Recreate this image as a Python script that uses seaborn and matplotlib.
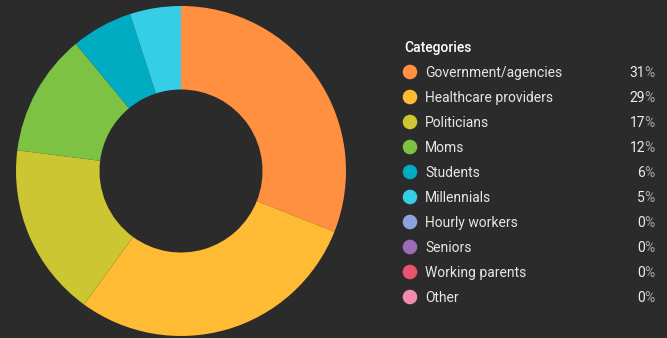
import matplotlib
matplotlib.use("Agg")
import matplotlib.pyplot as plt
import seaborn as sns

categories = ["Government/agencies", "Healthcare providers", "Politicians", "Moms",
              "Students", "Millennials", "Hourly workers", "Seniors", "Working parents", "Other"]
values = [31, 29, 17, 12, 6, 5, 0, 0, 0, 0]
colors = ["#FF9040", "#FFBB33", "#CCC633", "#7DC242", "#00ACC1", "#36CDE6",
          "#8EA2DE", "#9A6DB6", "#E8536F", "#F28BB0"]
legend_title = "Categories"

BG = "#2B2B2B"
sns.set_theme(style="dark")
plt.rcParams["font.family"] = ["Roboto", "DejaVu Sans"]
palette = sns.color_palette(colors)

W, H = 667, 338
fig = plt.figure(figsize=(W / 100, H / 100), dpi=100, facecolor=BG)

# donut
cx, cy, r = 181, 167, 165
ax = fig.add_axes([(cx - r) / W, (cy - r) / H, 2 * r / W, 2 * r / H])
ax.set_facecolor(BG)
ax.pie(values, colors=palette, startangle=90, counterclock=False, radius=1,
       wedgeprops=dict(width=0.506, linewidth=0))
ax.set_xlim(-1, 1)
ax.set_ylim(-1, 1)
ax.set_aspect("equal")
ax.axis("off")

# legend
lax = fig.add_axes([0, 0, 1, 1])
lax.set_xlim(0, W)
lax.set_ylim(H, 0)
lax.axis("off")
lax.patch.set_alpha(0)
fs = 10
lax.text(404, 48, legend_title, color="#FFFFFF", fontsize=fs, fontweight="medium",
         va="center", ha="left")
ys = [72 + 25 * i for i in range(len(categories))]
lax.scatter([410] * len(categories), ys, s=110, c=palette, linewidths=0)
for y, cat, v in zip(ys, categories, values):
    lax.text(425, y + 1, cat, color="#E6E6E6", fontsize=fs, va="center", ha="left")
    lax.text(645, y + 1, f"{v}", color="#EDEDED", fontsize=fs, va="center", ha="right")
    lax.text(644.5, y + 1, "%", color="#A8A8A8", fontsize=fs, va="center", ha="left")

fig.savefig("out.png", dpi=100, facecolor=BG)
